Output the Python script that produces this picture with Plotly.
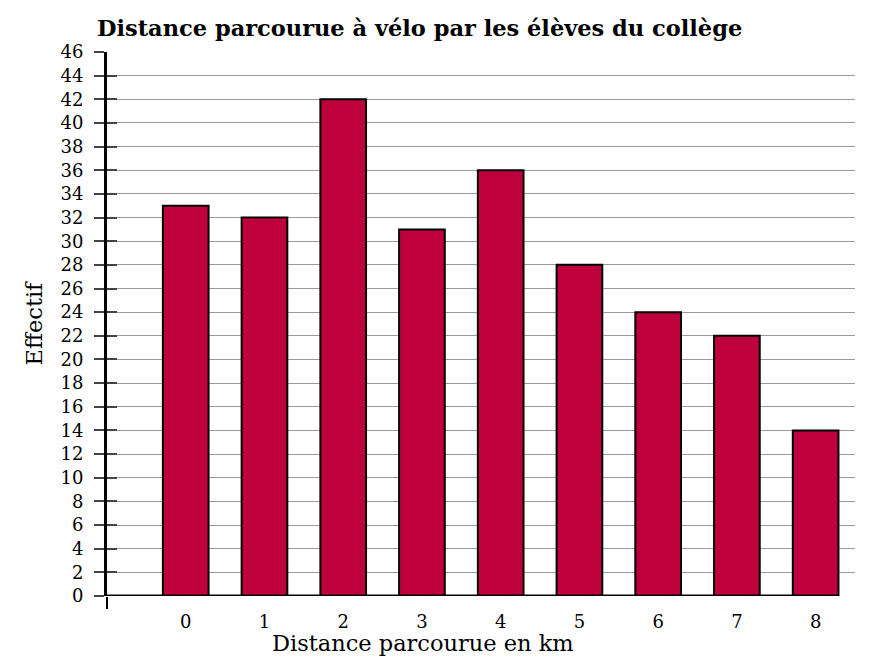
import plotly.graph_objects as go

# données
distances = [0, 1, 2, 3, 4, 5, 6, 7, 8]
effectifs = [33, 32, 42, 31, 36, 28, 24, 22, 14]
y_ticks = list(range(0, 47, 2))

bar_width = 0.58
serif = "DejaVu Serif"
# la page HTML a une marge de 8 px autour du graphique
W, H, PAD = 873, 670, 8

fig = go.Figure()
fig.add_trace(go.Bar(
    x=distances, y=effectifs, width=bar_width,
    marker=dict(color="#BE003C", line=dict(color="black", width=2)),
    hoverinfo="x+y",
))
# trace invisible pour les axes secondaires (petits traits des graduations)
fig.add_trace(go.Scatter(x=[-1], y=[0], xaxis="x2", yaxis="y2", mode="markers",
                         marker=dict(opacity=0), showlegend=False, hoverinfo="skip"))

# axe des abscisses : trait épais jusqu'à la dernière barre
fig.add_shape(type="line", xref="x", yref="y", x0=-1, x1=distances[-1] + bar_width / 2,
              y0=0, y1=0, line=dict(color="black", width=3), layer="above")

# titre de l'axe x, un peu décalé vers la gauche comme sur l'original
fig.add_annotation(text="Distance parcourue en km", xref="paper", yref="paper",
                   x=0.4225, y=-0.087, xanchor="center", yanchor="middle",
                   showarrow=False, font=dict(family=serif, size=22.5, color="black"))

fig.update_layout(
    width=W - PAD, height=H - PAD,
    margin=dict(l=107 - PAD, r=18, t=52 - PAD, b=74),
    plot_bgcolor="white", paper_bgcolor="white",
    showlegend=False,
    font=dict(family=serif, size=18, color="black"),
    title=dict(text="<b>Distance parcourue à vélo par les élèves du collège</b>",
               font=dict(family=serif, size=22.5, color="black"),
               x=(97 - PAD) / (W - PAD), xanchor="left", xref="container",
               y=1 - (28 - PAD) / (H - PAD), yanchor="middle", yref="container"),
    xaxis=dict(range=[-1, 8.5], tickvals=distances, ticktext=[str(d) for d in distances],
               showgrid=False, zeroline=False, showline=False, ticks="",
               ticklabelstandoff=13),
    yaxis=dict(range=[0, 46], tickvals=y_ticks, showgrid=True, gridcolor="#9a9a9a", gridwidth=1,
               zeroline=False, showline=True, linecolor="black", linewidth=3,
               ticks="outside", ticklen=10, tickwidth=1.5, tickcolor="#444",
               ticklabelstandoff=7,
               title=dict(text="Effectif", font=dict(size=22.5), standoff=12)),
    xaxis2=dict(overlaying="x", range=[-1, 8.5], tickvals=[-1], ticks="outside", ticklen=12,
                tickwidth=1.5, tickcolor="black", showticklabels=False, showgrid=False,
                zeroline=False, showline=False, anchor="y2", side="bottom"),
    yaxis2=dict(overlaying="y", range=[0, 46], tickvals=y_ticks, ticks="inside", ticklen=10,
                tickwidth=1.5, tickcolor="#444", showticklabels=False, showgrid=False,
                zeroline=False, showline=False, anchor="x2", side="left"),
)

fig.write_html("out.html")
